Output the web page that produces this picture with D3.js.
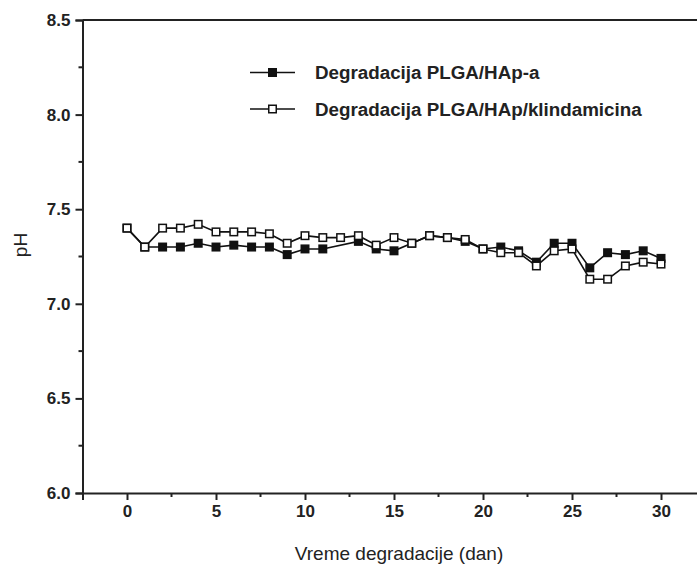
<!DOCTYPE html>
<html>
<head>
<meta charset="utf-8">
<script src="https://cdn.jsdelivr.net/npm/d3@7"></script>
<style>
  html, body { margin: 0; padding: 0; background: #fff; }
  svg { display: block; font-family: "Liberation Sans", Arial, sans-serif; }
</style>
</head>
<body>
<div id="chart"></div>
<script>
// days of degradation
const daysA = [0, 1, 2, 3, 4, 5, 6, 7, 8, 9, 10, 11, 13, 14, 15, 16, 17, 18, 19, 20, 21, 22, 23, 24, 25, 26, 27, 28, 29, 30];
const phA = [7.40, 7.30, 7.30, 7.30, 7.32, 7.30, 7.31, 7.30, 7.30, 7.26, 7.29, 7.29, 7.33, 7.29, 7.28, 7.32, 7.36, 7.35, 7.33, 7.29, 7.30, 7.28, 7.22, 7.32, 7.32, 7.19, 7.27, 7.26, 7.28, 7.24];

const daysB = [0, 1, 2, 3, 4, 5, 6, 7, 8, 9, 10, 11, 12, 13, 14, 15, 16, 17, 18, 19, 20, 21, 22, 23, 24, 25, 26, 27, 28, 29, 30];
const phB = [7.40, 7.30, 7.40, 7.40, 7.42, 7.38, 7.38, 7.38, 7.37, 7.32, 7.36, 7.35, 7.35, 7.36, 7.31, 7.35, 7.32, 7.36, 7.35, 7.34, 7.29, 7.27, 7.27, 7.20, 7.28, 7.29, 7.13, 7.13, 7.20, 7.22, 7.21];

const seriesNames = ["Degradacija PLGA/HAp-a", "Degradacija PLGA/HAp/klindamicina"];
const xTicks = [0, 5, 10, 15, 20, 25, 30];
const yTicks = [6.0, 6.5, 7.0, 7.5, 8.0, 8.5];

const width = 697;
const height = 569;

const x = d3.scaleLinear().domain([-2.5, 32.5]).range([82.5, 705.5]);
const y = d3.scaleLinear().domain([6.0, 8.5]).range([493, 20]);

const svg = d3.create("svg")
    .attr("width", width)
    .attr("height", height)
    .attr("viewBox", [0, 0, width, height]);

// top frame line
svg.append("line")
    .attr("x1", x(-2.5)).attr("x2", x(32.5))
    .attr("y1", y(8.5)).attr("y2", y(8.5))
    .attr("stroke", "#222").attr("stroke-width", 2);

const xMinor = d3.range(2.5, 33, 5);
const yMinor = d3.range(6.25, 8.5, 0.5);

const xAxis = svg.append("g")
    .attr("transform", `translate(0,${y(6)})`)
    .call(d3.axisBottom(x).tickValues(xTicks).tickSize(7).tickPadding(5).tickFormat(d3.format("d")));
xAxis.append("g").selectAll("line")
    .data(xMinor)
    .join("line")
    .attr("x1", d => x(d)).attr("x2", d => x(d))
    .attr("y1", 0).attr("y2", 4)
    .attr("stroke", "#222").attr("stroke-width", 2);

const yAxis = svg.append("g")
    .attr("transform", `translate(${x(-2.5)},0)`)
    .call(d3.axisLeft(y).tickValues(yTicks).tickSize(7).tickPadding(5).tickFormat(d3.format(".1f")));
yAxis.append("g").selectAll("line")
    .data(yMinor)
    .join("line")
    .attr("x1", 0).attr("x2", -4)
    .attr("y1", d => y(d)).attr("y2", d => y(d))
    .attr("stroke", "#222").attr("stroke-width", 2);

[xAxis, yAxis].forEach(g => {
    g.select(".domain").attr("stroke", "#222").attr("stroke-width", 2);
    g.selectAll(".tick line").attr("stroke", "#222").attr("stroke-width", 2);
    g.selectAll(".tick text")
        .attr("fill", "#222")
        .attr("font-size", 17)
        .attr("font-weight", "bold")
        .attr("font-family", "Liberation Sans, Arial, sans-serif");
});

// axis titles
svg.append("text")
    .attr("x", 399).attr("y", 560)
    .attr("text-anchor", "middle")
    .attr("font-size", 19)
    .attr("fill", "#222")
    .text("Vreme degradacije (dan)");

svg.append("text")
    .attr("transform", `translate(27,245) rotate(-90)`)
    .attr("text-anchor", "middle")
    .attr("font-size", 19)
    .attr("fill", "#222")
    .text("pH");

const line = d3.line().x(d => x(d[0])).y(d => y(d[1]));
const ms = 7.5;

function drawSeries(days, vals, fill) {
    const pts = days.map((d, i) => [d, vals[i]]);
    svg.append("path")
        .datum(pts)
        .attr("d", line)
        .attr("fill", "none")
        .attr("stroke", "#111")
        .attr("stroke-width", 1.6);
    svg.append("g").selectAll("rect")
        .data(pts)
        .join("rect")
        .attr("x", d => x(d[0]) - ms / 2)
        .attr("y", d => y(d[1]) - ms / 2)
        .attr("width", ms).attr("height", ms)
        .attr("fill", fill)
        .attr("stroke", "#111")
        .attr("stroke-width", 1.5);
}

drawSeries(daysA, phA, "#111");
drawSeries(daysB, phB, "#fff");

// legend
const legend = svg.append("g");
[["#111", 72.5], ["#fff", 109]].forEach(([fill, ly], i) => {
    legend.append("line")
        .attr("x1", 250).attr("x2", 295)
        .attr("y1", ly).attr("y2", ly)
        .attr("stroke", "#111").attr("stroke-width", 1.6);
    legend.append("rect")
        .attr("x", 272.5 - ms / 2).attr("y", ly - ms / 2)
        .attr("width", ms).attr("height", ms)
        .attr("fill", fill).attr("stroke", "#111").attr("stroke-width", 1.5);
    legend.append("text")
        .attr("x", 315).attr("y", ly)
        .attr("dy", "0.36em")
        .attr("font-size", 18.8)
        .attr("font-weight", "bold")
        .attr("fill", "#222")
        .text(seriesNames[i]);
});

document.getElementById("chart").appendChild(svg.node());
</script>
</body>
</html>
